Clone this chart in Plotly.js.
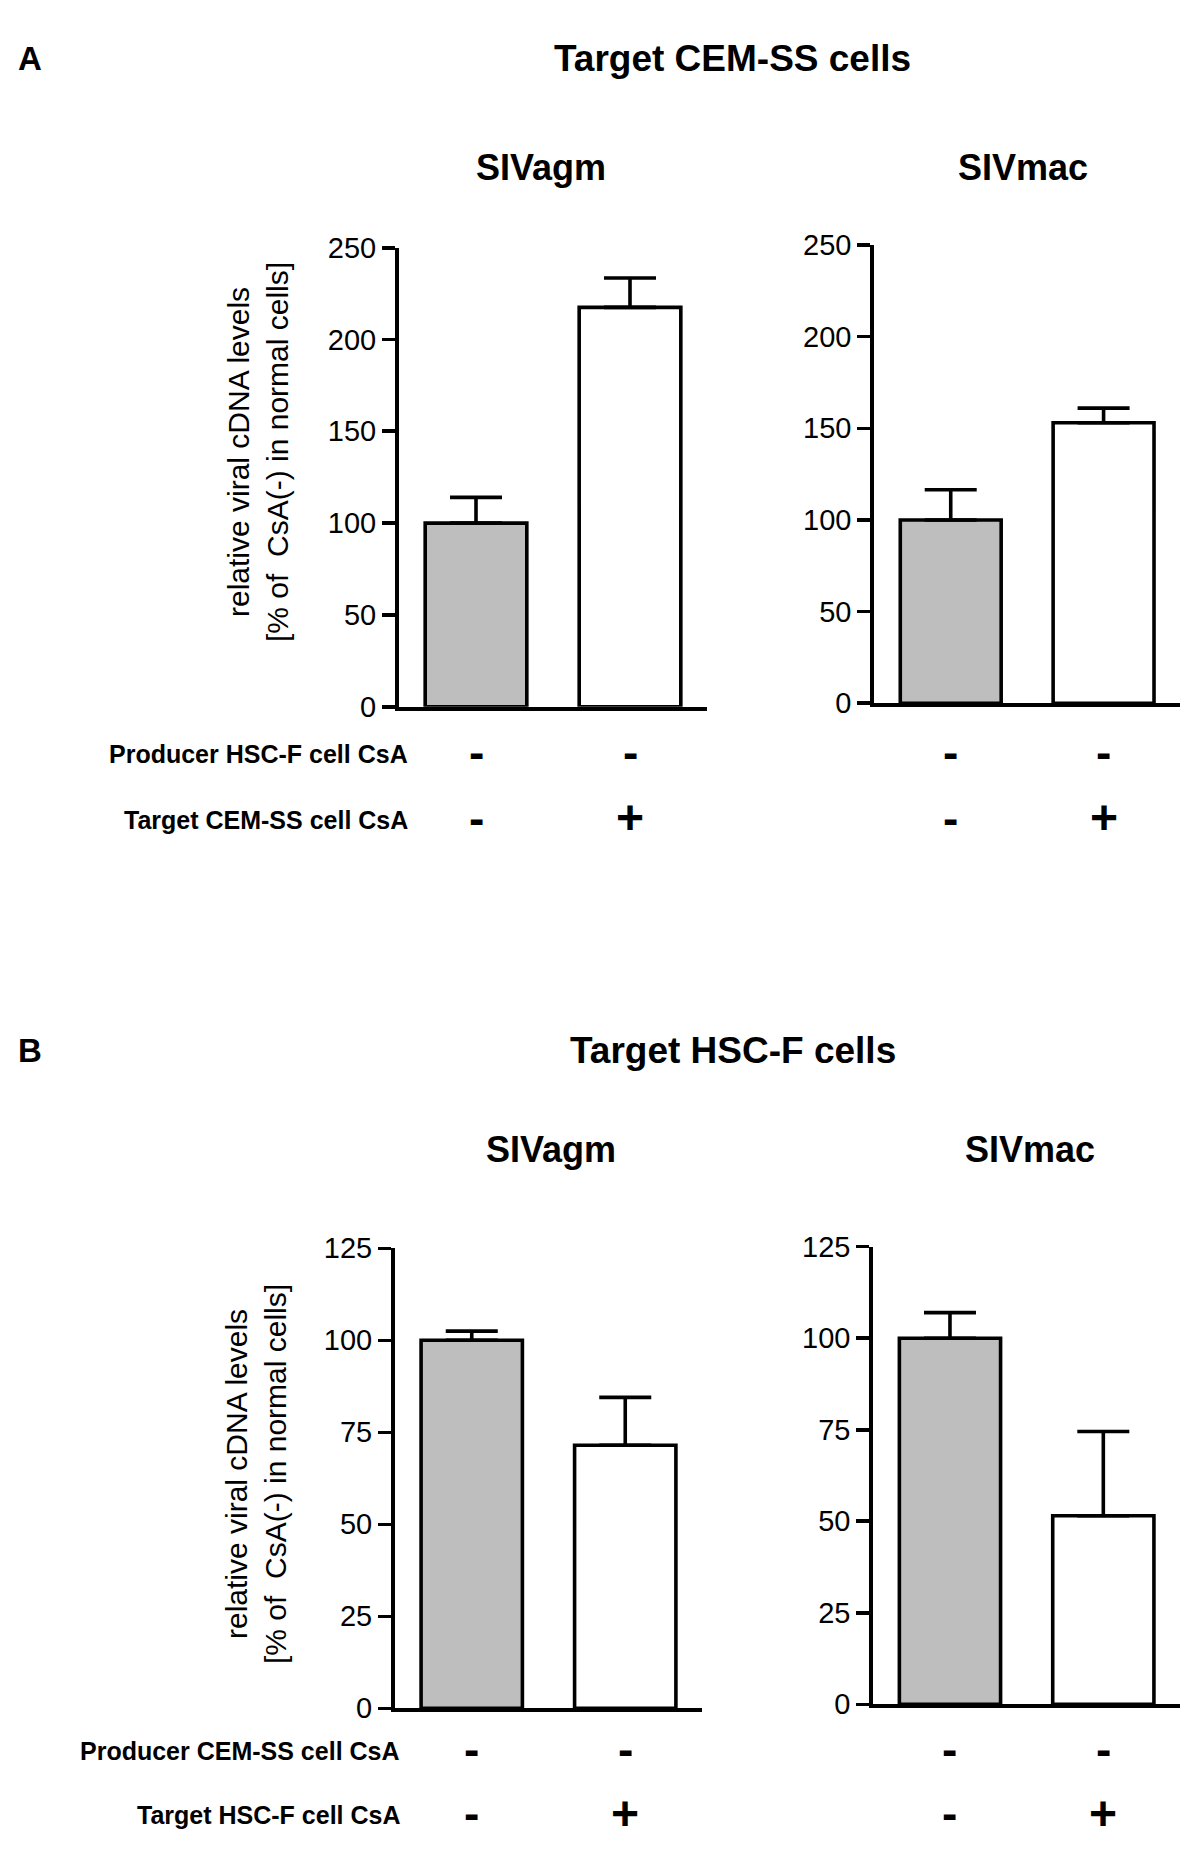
<!DOCTYPE html>
<html>
<head>
<meta charset="utf-8">
<script src="https://cdn.plot.ly/plotly-3.0.1.min.js"></script>
<style>html,body{margin:0;padding:0;background:#fff;}#chart{width:1200px;height:1867px;}</style>
</head>
<body>
<div id="chart"></div>
<script>
// ---- data ----
const categories = ['CsA(-)', 'CsA(+)'];
const cemAgm = [100, 217.5];
const cemAgmErr = [14, 16];
const cemMac = [100, 153];
const cemMacErr = [16.5, 8];
const hscAgm = [100, 71.5];
const hscAgmErr = [2.5, 13];
const hscMac = [100, 51.5];
const hscMacErr = [7, 23];
const producerCsA_A = ['-', '-'];
const targetCsA_A = ['-', '+'];
const producerCsA_B = ['-', '-'];
const targetCsA_B = ['-', '+'];
const ticksA = [0, 50, 100, 150, 200, 250];
const ticksB = [0, 25, 50, 75, 100, 125];
const panelTitleA = 'Target CEM-SS cells';
const panelTitleB = 'Target HSC-F cells';
const virusNames = ['SIVagm', 'SIVmac'];
const rowLabelsA = ['Producer HSC-F cell CsA', 'Target CEM-SS cell CsA'];
const rowLabelsB = ['Producer CEM-SS cell CsA', 'Target HSC-F cell CsA'];
const yTitle = 'relative viral cDNA levels<br>[% of\u00a0 CsA(-) in normal cells]';
const barColors = ['#bebebe', '#ffffff'];

// ---- layout helpers ----
const W = 1200, H = 1867;
const FONT = 'Liberation Sans, Arial, Helvetica, sans-serif';
const fx = p => p / W;
const fy = p => 1 - p / H;

function barTrace(vals, errs, xa, ya) {
  return {
    type: 'bar', x: categories, y: vals, xaxis: xa, yaxis: ya,
    width: 0.66,
    marker: {color: barColors, line: {color: '#000', width: 3.6}},
    error_y: {type: 'data', symmetric: false, array: errs, arrayminus: [0, 0],
              color: '#000', thickness: 3.6, width: 26},
    showlegend: false, hoverinfo: 'skip'
  };
}

const data = [
  barTrace(cemAgm, cemAgmErr, 'x', 'y'),
  barTrace(cemMac, cemMacErr, 'x2', 'y2'),
  barTrace(hscAgm, hscAgmErr, 'x3', 'y3'),
  barTrace(hscMac, hscMacErr, 'x4', 'y4')
];

function xax(d0, d1, anchor) {
  return {domain: [fx(d0), fx(d1)], anchor: anchor, type: 'category',
          categoryorder: 'array', categoryarray: categories,
          range: [-0.5, 1.5], showticklabels: false, ticks: '',
          showline: true, linecolor: '#000', linewidth: 4,
          showgrid: false, zeroline: false, fixedrange: true};
}
function yax(top, bottom, anchor, ticks, maxv) {
  return {domain: [fy(bottom), fy(top)], anchor: anchor, range: [0, maxv],
          tickvals: ticks, ticktext: ticks.map(String),
          ticks: 'outside', ticklen: 13, tickwidth: 3.6, tickcolor: '#000',
          tickfont: {family: FONT, size: 29, color: '#000'},
          showline: true, linecolor: '#000', linewidth: 4,
          showgrid: false, zeroline: false, fixedrange: true};
}

const annotations = [];
function txt(text, x, y, size, bold, opts) {
  annotations.push(Object.assign({
    text: bold ? '<b>' + text + '</b>' : text,
    xref: 'paper', yref: 'paper', x: fx(x), y: fy(y),
    xanchor: 'center', yanchor: 'middle', showarrow: false,
    font: {family: FONT, size: size, color: '#000'}
  }, opts || {}));
}

// Panel letters and titles
txt('A', 30, 58, 33, true);
txt(panelTitleA, 732, 58, 37, true);
txt(virusNames[0], 541, 167, 36, true);
txt(virusNames[1], 1023, 167, 36, true);
txt('B', 30, 1050, 33, true);
txt(panelTitleB, 733, 1050, 37, true);
txt(virusNames[0], 551, 1149, 36, true);
txt(virusNames[1], 1030, 1149, 36, true);

// y-axis titles
txt(yTitle, 258, 452, 30, false, {textangle: -90});
txt(yTitle, 256, 1474, 30, false, {textangle: -90});

// row labels
txt(rowLabelsA[0], 410, 754, 25, true, {xanchor: 'right'});
txt(rowLabelsA[1], 410, 820, 25, true, {xanchor: 'right'});
txt(rowLabelsB[0], 402, 1751, 25, true, {xanchor: 'right'});
txt(rowLabelsB[1], 402, 1815, 25, true, {xanchor: 'right'});

// +/- marks positioned through category axes
function marks(arr, xref, y) {
  arr.forEach((m, i) => {
    annotations.push({
      text: '<b>' + m + '</b>', xref: xref, yref: 'paper', x: categories[i], y: fy(y),
      xanchor: 'center', yanchor: 'middle', showarrow: false,
      font: {family: FONT, size: m === '+' ? 48 : 46, color: '#000'}
    });
  });
}
marks(producerCsA_A, 'x', 752);
marks(targetCsA_A, 'x', 818);
marks(producerCsA_A, 'x2', 752);
marks(targetCsA_A, 'x2', 818);
marks(producerCsA_B, 'x3', 1749);
marks(targetCsA_B, 'x3', 1813);
marks(producerCsA_B, 'x4', 1749);
marks(targetCsA_B, 'x4', 1813);

const layout = {
  width: W, height: H,
  margin: {l: 0, r: 0, t: 0, b: 0, pad: 0},
  paper_bgcolor: '#fff', plot_bgcolor: 'rgba(0,0,0,0)',
  showlegend: false,
  xaxis: xax(399, 707, 'y'),
  yaxis: yax(247.7, 706.7, 'x', ticksA, 250),
  xaxis2: xax(874.3, 1180, 'y2'),
  yaxis2: yax(245, 703.3, 'x2', ticksA, 250),
  xaxis3: xax(395, 702, 'y3'),
  yaxis3: yax(1248.3, 1708.3, 'x3', ticksB, 125),
  xaxis4: xax(873.3, 1180, 'y4'),
  yaxis4: yax(1246.7, 1704.3, 'x4', ticksB, 125),
  annotations: annotations
};

Plotly.newPlot('chart', data, layout, {staticPlot: true, displayModeBar: false});
</script>
</body>
</html>
